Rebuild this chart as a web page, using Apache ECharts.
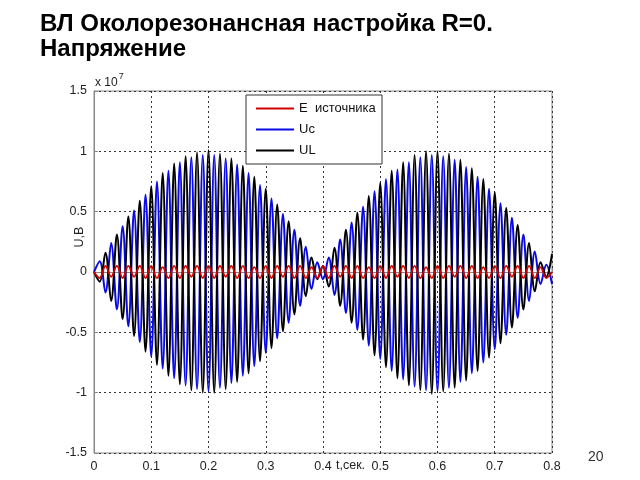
<!DOCTYPE html>
<html><head><meta charset="utf-8">
<script src="https://cdn.jsdelivr.net/npm/echarts@6/dist/echarts.min.js"></script>
<style>html,body{margin:0;padding:0;background:#fff}#c{width:640px;height:480px}</style>
</head><body><div id="c"></div>
<script>
// Peak (extremum) values, in units of 1e7 V, one every half-period (0.01 s)
const stepT = 0.01;
const xTicks = ['0','0.1','0.2','0.3','0.4','0.5','0.6','0.7','0.8'];
const yTicks = ['-1.5','-1','-0.5','0','0.5','1','1.5'];
const seriesNames = ['E  источника', 'Uc', 'UL'];

const ulPeaks = [
 0.00,-0.08, 0.16,-0.24, 0.31,-0.39, 0.46,-0.53, 0.59,-0.66,
 0.71,-0.77, 0.82,-0.86, 0.90,-0.93, 0.96,-0.98, 0.99,-1.00,
 1.01,-1.00, 0.98,-0.97, 0.94,-0.91, 0.88,-0.84, 0.79,-0.74,
 0.69,-0.63, 0.56,-0.49, 0.42,-0.35, 0.28,-0.20, 0.12,-0.06,
 0.05,-0.12, 0.20,-0.28, 0.35,-0.42, 0.49,-0.56, 0.63,-0.69,
 0.74,-0.79, 0.84,-0.88, 0.91,-0.94, 0.97,-0.98, 1.00,-1.01,
 1.00,-0.99, 0.98,-0.96, 0.93,-0.90, 0.86,-0.82, 0.77,-0.71,
 0.66,-0.59, 0.53,-0.46, 0.39,-0.31, 0.24,-0.16, 0.08,-0.04,
 0.15
];
const ucPeaks = [
 0.00, 0.09,-0.17, 0.24,-0.31, 0.38,-0.45, 0.51,-0.58, 0.64,
-0.70, 0.75,-0.80, 0.84,-0.88, 0.91,-0.94, 0.95,-0.97, 0.97,
-0.99, 0.97,-0.96, 0.94,-0.92, 0.89,-0.86, 0.82,-0.78, 0.72,
-0.67, 0.61,-0.55, 0.48,-0.42, 0.35,-0.28, 0.21,-0.14, 0.08,
-0.06, 0.12,-0.19, 0.27,-0.34, 0.41,-0.48, 0.54,-0.61, 0.67,
-0.72, 0.77,-0.82, 0.85,-0.89, 0.91,-0.95, 0.95,-0.98, 0.97,
-0.99, 0.96,-0.96, 0.93,-0.91, 0.87,-0.84, 0.79,-0.75, 0.69,
-0.64, 0.57,-0.52, 0.45,-0.38, 0.31,-0.24, 0.17,-0.10, 0.06,
-0.10
];
const ePeaks = [
 0.00,-0.05, 0.05,-0.04, 0.05,-0.05, 0.05,-0.04, 0.05,-0.05,
 0.05,-0.05, 0.04,-0.05, 0.05,-0.05, 0.05,-0.04, 0.05,-0.05,
 0.05,-0.05, 0.05,-0.04, 0.05,-0.05, 0.05,-0.05, 0.04,-0.05,
 0.05,-0.05, 0.05,-0.04, 0.05,-0.05, 0.05,-0.05, 0.04,-0.05,
 0.05,-0.05, 0.05,-0.04, 0.05,-0.05, 0.05,-0.05, 0.04,-0.05,
 0.05,-0.05, 0.05,-0.04, 0.05,-0.05, 0.05,-0.05, 0.04,-0.05,
 0.05,-0.05, 0.05,-0.04, 0.05,-0.05, 0.05,-0.05, 0.04,-0.05,
 0.05,-0.05, 0.05,-0.04, 0.05,-0.05, 0.05,-0.05, 0.04,-0.05,
 0.00
];

function pairs(vals){ return vals.map((v,i)=>[i*stepT, v]); }

const chart = echarts.init(document.getElementById('c'), null, {renderer:'canvas'});
const FONT = '"Liberation Sans", Arial, sans-serif';
const gridLine = {show:true, lineStyle:{color:'#333', type:[2,3], width:1}};
chart.setOption({
  animation:false,
  backgroundColor:'#fff',
  textStyle:{fontFamily:FONT},
  grid:{left:94, right:88, top:91, bottom:27, show:true, borderColor:'#888', borderWidth:1, backgroundColor:'transparent'},
  xAxis:{type:'value', min:0, max:0.8, interval:0.1,
    axisLine:{show:true, lineStyle:{color:'#888'}},
    axisTick:{show:true, inside:true, length:4, lineStyle:{color:'#888'}},
    axisLabel:{color:'#222', fontSize:12.5, margin:7, fontFamily:FONT,
      formatter:v=>xTicks[Math.round(v*10)]},
    splitLine:gridLine},
  yAxis:{type:'value', min:-1.5, max:1.5, interval:0.5,
    axisLine:{show:true, lineStyle:{color:'#888'}},
    axisTick:{show:true, inside:true, length:4, lineStyle:{color:'#888'}},
    axisLabel:{color:'#222', fontSize:12.5, margin:7, fontFamily:FONT,
      formatter:v=>yTicks[Math.round(v*2)+3]},
    splitLine:gridLine},
  legend:{left:246, top:95, orient:'vertical', itemWidth:38, itemHeight:2, itemGap:0,
    icon:'rect', padding:[3,3,3,10], backgroundColor:'#fff', borderColor:'#333', borderWidth:1,
    borderRadius:0, itemStyle:{borderWidth:0}, itemTextGap:6,
    textStyle:{color:'#111', fontSize:13, lineHeight:21, fontFamily:FONT, width:80},
    data:[{name:seriesNames[0]},{name:seriesNames[1]},{name:seriesNames[2]}]},
  series:[
    {name:seriesNames[1], type:'line', data:pairs(ucPeaks), showSymbol:false, smooth:0.35,
      lineStyle:{color:'#0a0ae6', width:2}, itemStyle:{color:'#0a0ae6'}, z:2},
    {name:seriesNames[2], type:'line', data:pairs(ulPeaks), showSymbol:false, smooth:0.35,
      lineStyle:{color:'#000', width:2}, itemStyle:{color:'#000'}, z:3},
    {name:seriesNames[0], type:'line', data:pairs(ePeaks), showSymbol:false, smooth:0.35,
      lineStyle:{color:'#d40000', width:1.8}, itemStyle:{color:'#d40000'}, z:4}
  ],
  graphic:[
    {type:'text', left:40, top:12, style:{text:'ВЛ Околорезонансная настройка R=0.', font:'bold 24px '+FONT, fill:'#000'}},
    {type:'text', left:40, top:37, style:{text:'Напряжение', font:'bold 24px '+FONT, fill:'#000'}},
    {type:'text', left:95, top:72, style:{
      text:'{a|x 10}{b|7}', rich:{a:{fontSize:12, fill:'#222', fontFamily:FONT, verticalAlign:'bottom'}, b:{fontSize:9, fill:'#222', fontFamily:FONT, verticalAlign:'top', padding:[0,0,8,1]}}}},
    {type:'text', x:80, y:237, rotation:Math.PI/2, style:{text:'U,В', font:'12.5px '+FONT, fill:'#222', align:'center', verticalAlign:'middle'}},
    {type:'text', left:336, top:459, style:{text:'t,сек.', font:'12.5px '+FONT, fill:'#222'}},
    {type:'text', left:588, top:450, style:{text:'20', font:'14px '+FONT, fill:'#333'}}
  ]
});
</script></body></html>
